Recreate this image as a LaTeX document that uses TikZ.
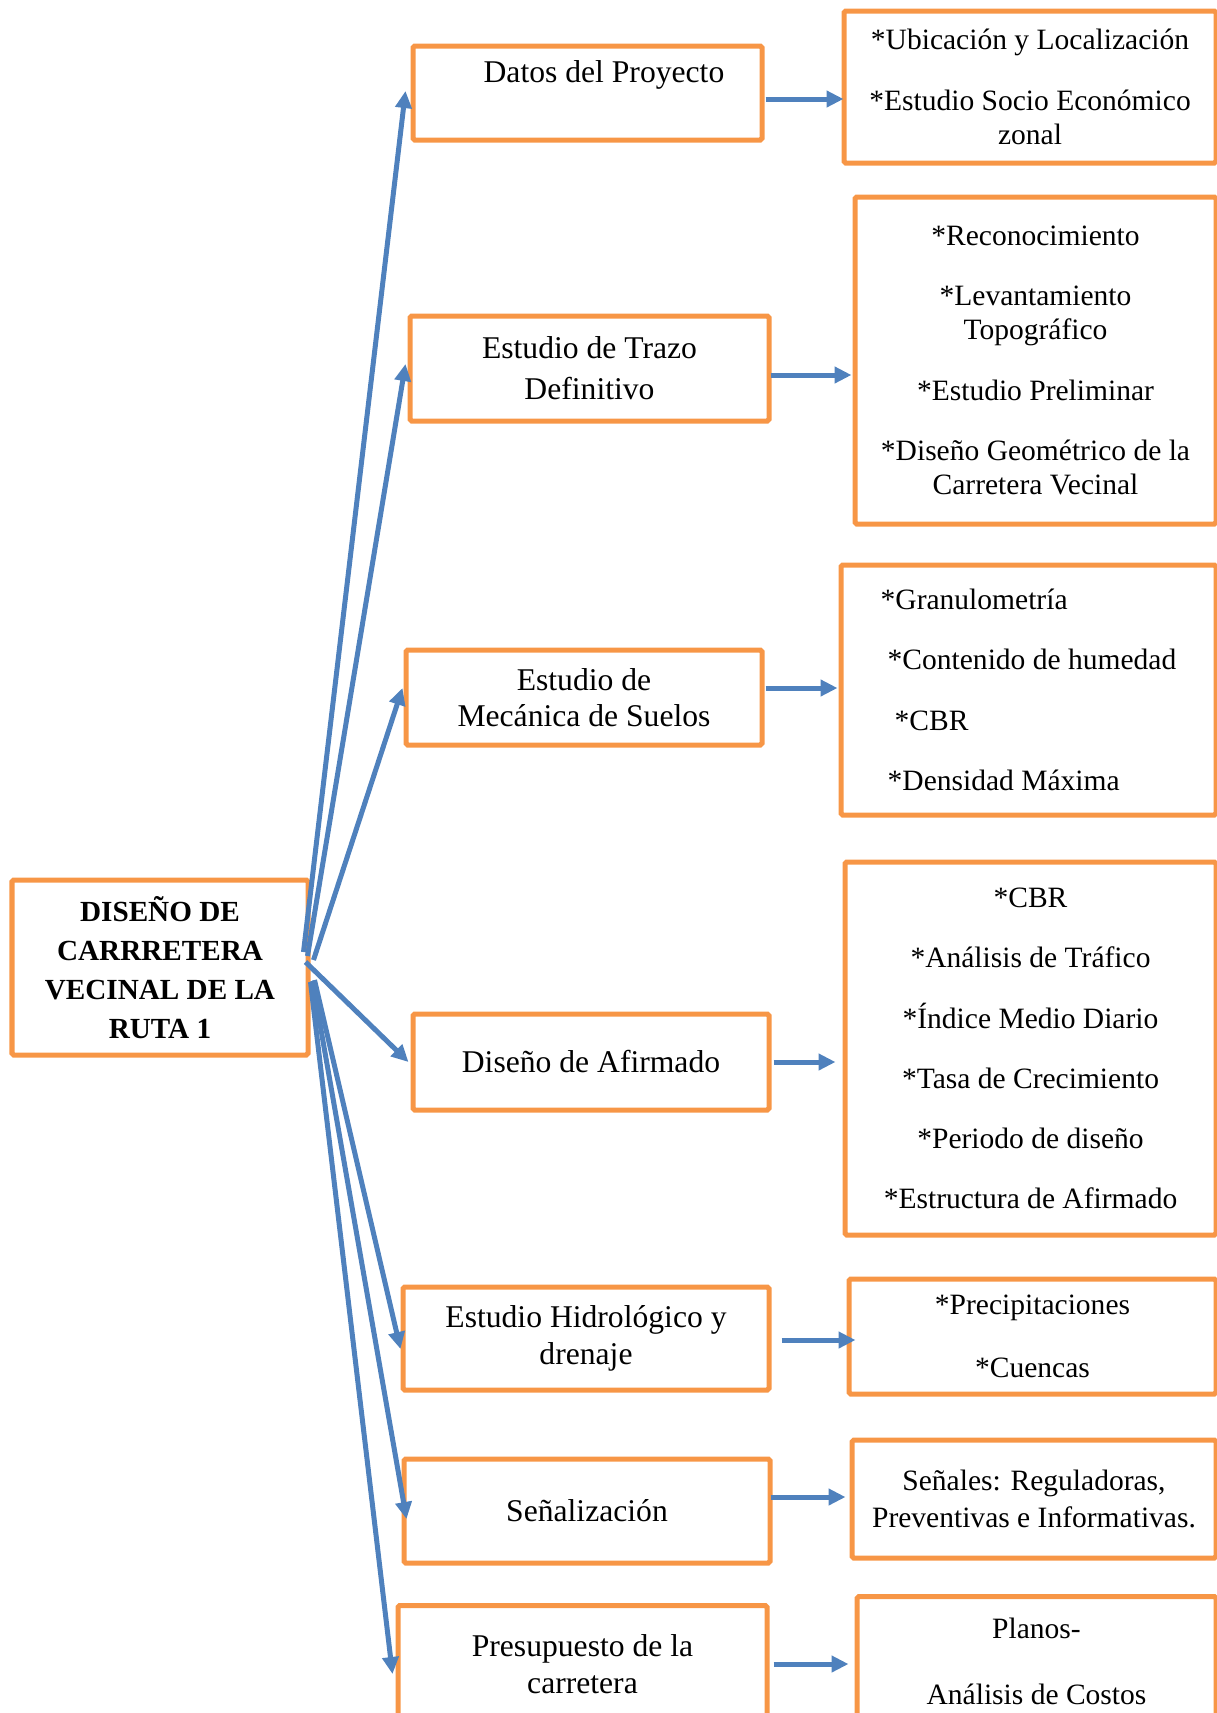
\documentclass[tikz,border=0pt]{standalone}
\usepackage{fontspec}
\setmainfont{Liberation Serif}
\usetikzlibrary{arrows.meta}
\definecolor{ruta_orange}{RGB}{247,150,70}
\definecolor{ruta_blue}{RGB}{79,129,189}

\begin{document}
\begin{tikzpicture}[
        every node/.style={font=\fontsize{16.8}{19.5}\selectfont},
        box/.style={draw=ruta_orange, line width=0.1cm, rounded corners=1pt, align=center, inner sep=2pt},
        stage/.style={box, font=\fontsize{18}{20.5}\selectfont},
        mainbox/.style={box, font=\fontsize{16.6}{22.2}\selectfont\bfseries, minimum width=5.92cm, minimum height=3.50cm},
        arr/.style={draw=ruta_blue, line width=0.1cm, -{Triangle[length=0.34cm, width=0.32cm]}}
    ]
    \useasboundingbox (0,0) rectangle (24.34,-34.26);
    \clip (0,0) rectangle (24.34,-34.26);

    % bloque principal
    \node[mainbox] (main) at (3.20,-19.35) {DISEÑO DE\\ CARRRETERA\\ VECINAL DE LA\\ RUTA 1};

    % etapas
    \node[stage, minimum width=6.98cm, minimum height=1.88cm, text depth=24pt] (datos) at (11.75,-1.86) {\hspace*{0.66cm}Datos del Proyecto};
    \node[stage, minimum width=7.18cm, minimum height=2.10cm] (trazo) at (11.79,-7.37) {Estudio de Trazo\\[3pt] Definitivo};
    \node[stage, minimum width=7.12cm, minimum height=1.90cm] (meca) at (11.68,-13.95) {Estudio de\\ Mecánica de Suelos};
    \node[stage, minimum width=7.12cm, minimum height=1.92cm] (afirm) at (11.82,-21.24) {Diseño de Afirmado};
    \node[stage, minimum width=7.32cm, minimum height=2.06cm] (hidro) at (11.72,-26.77) {Estudio Hidrológico y\\[0.5pt] drenaje};
    \node[stage, minimum width=7.32cm, minimum height=2.08cm] (senal) at (11.74,-30.22) {Señalización};
    \node[stage, minimum width=7.38cm, minimum height=2.34cm] (presup) at (11.65,-33.28) {Presupuesto de la\\[0.5pt] carretera};

    % contenidos
    \node[box, minimum width=7.44cm, minimum height=3.04cm] (datosR) at (20.60,-1.74)
        {*Ubicación y Localización\\[14.8pt] *Estudio Socio Económico\\{}zonal};
    \node[box, minimum width=7.22cm, minimum height=6.54cm] (trazoR) at (20.71,-7.21)
        {*Reconocimiento\\[14.8pt] *Levantamiento\\{}Topográfico\\[14.8pt] *Estudio Preliminar\\[14.8pt] *Diseño Geométrico de la\\{}Carretera Vecinal};
    \node[box, align=left, minimum width=7.50cm, minimum height=5.00cm] (mecaR) at (20.57,-13.80)
        {*Granulometría\\[14.8pt] \hspace*{0.14cm}*Contenido de humedad\\[14.8pt] \hspace*{0.28cm}*CBR\\[14.8pt] \hspace*{0.14cm}*Densidad Máxima};
    \node[box, minimum width=7.42cm, minimum height=7.46cm] (afirmR) at (20.61,-20.97)
        {*CBR\\[14.8pt] *Análisis de Tráfico\\[14.8pt] *Índice Medio Diario\\[14.8pt] *Tasa de Crecimiento\\[14.8pt] *Periodo de diseño\\[14.8pt] *Estructura de Afirmado};
    \node[box, minimum width=7.34cm, minimum height=2.30cm] (hidroR) at (20.65,-26.73)
        {*Precipitaciones\\[16pt] *Cuencas};
    \node[box, minimum width=7.28cm, minimum height=2.36cm] (senalR) at (20.68,-29.98)
        {Señales: Reguladoras,\\[2pt] Preventivas e Informativas.};
    \node[box, minimum width=7.18cm, minimum height=2.58cm] (presupR) at (20.73,-33.22)
        {Planos-\\[18pt] Análisis de Costos};

    % flechas desde el bloque principal
    \foreach \b/\dx/\dy/\ex/\ey in {datos/-0.14/0.31/-0.10/0.04, trazo/-0.06/0.23/-0.04/0.09,
            meca/0.06/0.15/-0.02/0.19, afirm/-0.10/0.11/-0.04/0, hidro/0.08/-0.25/0/-0.21,
            senal/0.04/-0.27/0.10/-0.16, presup/0/-0.29/-0.06/-0.20}
        \draw[arr] ([shift={(\dx,\dy)}]main.east) -- ([shift={(\ex,\ey)}]\b.west);

    % flechas hacia los contenidos
    \foreach \a/\b/\dy/\sl/\sr in {datos/datosR/-0.12/0.02/-0.04, trazo/trazoR/-0.13/-0.02/0.02,
            meca/mecaR/0.19/0.02/0.02, afirm/afirmR/0/0.04/0.14, hidro/hidroR/-0.03/0.20/-0.18,
            senal/senalR/0.28/-0.04/0.08, presup/presupR/0/0.08/0.12}
        \draw[arr, shorten <=\sl cm, shorten >=\sr cm] ([yshift=\dy cm]\a.east) coordinate (s) -- (s -| \b.west);
\end{tikzpicture}
\end{document}
